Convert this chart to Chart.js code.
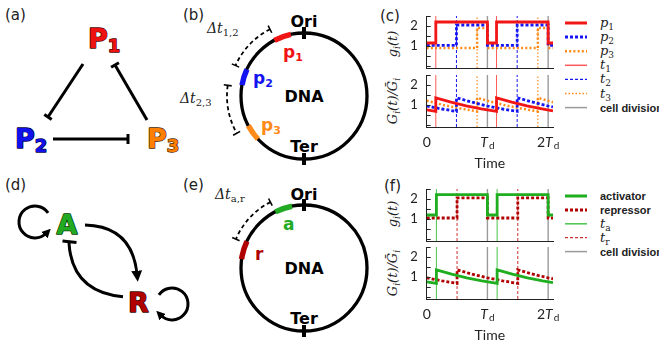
<!DOCTYPE html>
<html><head><meta charset="utf-8">
<script src="https://cdn.jsdelivr.net/npm/chart.js@4"></script>
<style>
body{margin:0;background:#fff;}
#wrap{position:relative;width:659px;height:343px;overflow:hidden;background:#fff;}
canvas{position:absolute;}
#fig{position:absolute;left:0;top:0;}
</style></head><body>
<div id="wrap">
<svg id="fig" width="659" height="343" font-family="DejaVu Sans"></svg>
<canvas id="cTop" width="156" height="60" style="left:400px;top:10px"></canvas>
<canvas id="cBot" width="175" height="100" style="left:400px;top:70px"></canvas>
<canvas id="fTop" width="156" height="60" style="left:400px;top:183px"></canvas>
<canvas id="fBot" width="175" height="101" style="left:400px;top:242px"></canvas>
</div>
<script>
// ---------- data (time in units of T_d) ----------
const timeTicks = [0, 1, 2];
const yMin = -0.1, yMax = 2.5, xMax = 2.08;
const yTickMarks = [0, 0.5, 1, 1.5, 2, 2.5];
const yTickLabels = [1, 2];
const divisionTimes = [1, 2];
const t1Times = [0.15, 1.15];
const t2Times = [0.49, 1.49];
const t3Times = [0.83, 1.83];
const taTimes = [0.16, 1.16];
const trTimes = [0.5, 1.5];
// gene copy number g_i(t): [time, value] at switching points
const p1Gene = [[0,1.15],[0.15,2.2],[1,1.15],[1.15,2.2],[2,1.15],[2.08,1.15]];
const p2Gene = [[0,1.03],[0.49,2.05],[1,1.03],[1.49,2.05],[2,1.03],[2.08,1.03]];
const p3Gene = [[0,0.9],[0.83,1.9],[1,0.9],[1.83,1.9],[2,0.9],[2.08,0.9]];
// gene concentration G_i(t)/mean
const p1Conc = [[0,0.76],[0.15,0.68],[0.15,1.36],[0.4,1.14],[0.65,0.96],[0.9,0.81],[1.15,0.68],[1.15,1.36],[1.4,1.14],[1.65,0.96],[1.9,0.81],[2.08,0.71]];
const p2Conc = [[0,0.95],[0.25,0.8],[0.49,0.68],[0.49,1.36],[0.75,1.14],[1,0.95],[1.25,0.8],[1.49,0.68],[1.49,1.36],[1.75,1.14],[2,0.95],[2.08,0.9]];
const p3Conc = [[0,1.21],[0.3,0.98],[0.55,0.83],[0.83,0.68],[0.83,1.36],[1.05,1.17],[1.3,0.98],[1.55,0.83],[1.83,0.68],[1.83,1.36],[2.08,1.14]];
const actGene = [[0,1.2],[0.16,2.22],[1,1.2],[1.16,2.22],[2,1.2],[2.08,1.2]];
const repGene = [[0,1.05],[0.5,2.06],[1,1.05],[1.5,2.06],[2,1.05],[2.08,1.05]];
const actConc = [[0,0.76],[0.16,0.68],[0.16,1.36],[0.41,1.14],[0.66,0.96],[0.91,0.81],[1.16,0.68],[1.16,1.36],[1.41,1.14],[1.66,0.96],[1.91,0.81],[2.08,0.72]];
const repConc = [[0,0.96],[0.25,0.81],[0.5,0.68],[0.5,1.36],[0.75,1.14],[1,0.96],[1.25,0.81],[1.5,0.68],[1.5,1.36],[1.75,1.14],[2,0.96],[2.08,0.91]];

// ---------- styles ----------
const RED='#f31616', LRED='#ff5a5a', BLUE='#1616f2', ORANGE='#ff8a18', GRAY='#9a9a9a', GREEN='#1fae1f', LGREEN='#4cc44c', DRED='#b00000', MRED='#cc3030';

const pts = a => a.map(([x,y]) => ({x, y}));
const vpts = ts => ts.flatMap(t => [{x:t,y:yMin},{x:t,y:yMax},{x:t,y:null}]);
function ds(data, color, width, dash, stepped){
  return {data, borderColor:color, borderWidth:width, borderDash:dash||[], stepped: stepped ? 'before' : false,
          pointRadius:0, fill:false, tension:0, spanGaps:false};
}
function drawTimeLabel(ctx, v, px, py){
  const parts = [];
  if (v === 0) parts.push(['0','14px Lato',0]);
  else { if (v !== 1) parts.push([String(v),'14px Lato',0]); parts.push(['T','italic 14px Lato',0]); parts.push(['d','10px Lato',4]); }
  let w = 0; parts.forEach(p => { ctx.font = p[1]; w += ctx.measureText(p[0]).width + (p[0]==='T'?1:0); });
  let x = px - w/2;
  ctx.textAlign = 'left';
  parts.forEach(p => { ctx.font = p[1]; ctx.fillText(p[0], x, py + p[2]); x += ctx.measureText(p[0]).width + (p[0]==='T'?1:0); });
}
const axisDecor = {
  id:'axisDecor',
  afterDraw(chart, args, opts){
    const {ctx, chartArea:a, scales:{x, y}} = chart;
    ctx.save();
    ctx.strokeStyle = '#222'; ctx.lineWidth = 1;
    yTickMarks.forEach(v => { const py = Math.round(y.getPixelForValue(v)) + 0.5;
      ctx.beginPath(); ctx.moveTo(a.left, py); ctx.lineTo(a.left + 4, py); ctx.stroke(); });
    if (opts.show){
      ctx.fillStyle = '#222'; ctx.textBaseline = 'middle';
      timeTicks.forEach(v => drawTimeLabel(ctx, v, x.getPixelForValue(v), a.bottom + 15));
      ctx.font = '14px Lato'; ctx.textAlign = 'center';
      ctx.fillText('Time', (a.left + a.right)/2, a.bottom + 36);
    }
    ctx.restore();
  }
};
function makeChart(id, datasets, padTop, padBottom, padRight, showTime){
  return new Chart(document.getElementById(id), {
    type:'line',
    data:{datasets},
    options:{
      responsive:false, animation:false, devicePixelRatio:1, events:[],
      layout:{padding:{left:0, right:padRight, top:padTop, bottom:padBottom}},
      plugins:{legend:{display:false}, tooltip:{enabled:false}, axisDecor:{show:showTime}},
      scales:{
        x:{type:'linear', min:0, max:xMax, grid:{display:false, drawTicks:false},
           border:{display:true, color:'#222', width:1}, ticks:{display:false},
           afterFit:s => { s.height = 0; s.paddingLeft = 0; s.paddingRight = 0; }},
        y:{type:'linear', min:yMin, max:yMax, grid:{display:false, drawTicks:false},
           border:{display:true, color:'#222', width:1},
           ticks:{padding:9, color:'#222', font:{family:'Lato', size:13}},
           afterBuildTicks:s => { s.ticks = yTickLabels.map(v => ({value:v})); },
           afterFit:s => { s.width = 26.7; s.paddingTop = 0; s.paddingBottom = 0; }}
      }
    },
    plugins:[axisDecor]
  });
}
function verticals(a, b, c){
  const out = [];
  if (a) out.push(ds(vpts(a[0]), a[1], 1, a[2]));
  if (b) out.push(ds(vpts(b[0]), b[1], 1, b[2]));
  if (c) out.push(ds(vpts(c[0]), c[1], 1.2, c[2]));
  out.push(ds(vpts(divisionTimes), GRAY, 1.4));
  return out;
}
const cVert = () => verticals([t1Times, LRED], [t2Times, BLUE, [3,2]], [t3Times, ORANGE, [1.5,2]]);
const fVert = () => verticals([taTimes, LGREEN], [trTimes, MRED, [3,2]]);

makeChart('cTop', [ds(pts(p1Gene), RED, 2.8, null, true), ds(pts(p2Gene), BLUE, 2.8, [3,2], true),
                   ds(pts(p3Gene), ORANGE, 2.5, [2,2.2], true), ...cVert()], 6, 2, 3, false);
makeChart('cBot', [ds(pts(p1Conc), RED, 2.8), ds(pts(p2Conc), BLUE, 2.8, [3,2]),
                   ds(pts(p3Conc), ORANGE, 2.5, [2,2.2]), ...cVert()], 5, 43, 22, true);
makeChart('fTop', [ds(pts(actGene), GREEN, 2.8, null, true), ds(pts(repGene), DRED, 2.8, [3,2], true), ...fVert()], 6, 2, 3, false);
makeChart('fBot', [ds(pts(actConc), GREEN, 2.8), ds(pts(repConc), DRED, 2.8, [3,2]), ...fVert()], 5, 44, 22, true);

// ---------- diagrams, legends, labels (SVG) ----------
function P(cx,cy,r,phi){ const a = phi*Math.PI/180; return [cx - r*Math.sin(a), cy - r*Math.cos(a)]; }
function arc(cx,cy,r,p1,p2){ const [x1,y1]=P(cx,cy,r,p1), [x2,y2]=P(cx,cy,r,p2);
  return `M${x1.toFixed(1)},${y1.toFixed(1)} A${r},${r} 0 ${(p2-p1)>180?1:0} 0 ${x2.toFixed(1)},${y2.toFixed(1)}`; }
function bracket(cx,cy,r,p1,p2){
  let s = `<path d="${arc(cx,cy,r,p1,p2)}" fill="none" stroke="#000" stroke-width="1.8" stroke-dasharray="4,3"/>`;
  [p1,p2].forEach(p => { const [a,b]=P(cx,cy,r-4,p), [c,d]=P(cx,cy,r+4,p);
    s += `<line x1="${a}" y1="${b}" x2="${c}" y2="${d}" stroke="#000" stroke-width="1.6"/>`; });
  return s;
}
function dna(cx,cy,r,segs,oriY,terY,dnaY){
  let s = `<circle cx="${cx}" cy="${cy}" r="${r}" fill="none" stroke="#000" stroke-width="3.3"/>`;
  segs.forEach(g => s += `<path d="${arc(cx,cy,r,g[0],g[1])}" fill="none" stroke="${g[2]}" stroke-width="5.5"/>`);
  s += `<rect x="${cx-2}" y="${cy-r-6}" width="4" height="12" fill="#000"/><rect x="${cx-2}" y="${cy+r-6}" width="4" height="12" fill="#000"/>`;
  s += `<text x="${cx}" y="${oriY}" text-anchor="middle" font-weight="bold" font-size="16">Ori</text>`;
  s += `<text x="${cx}" y="${terY}" text-anchor="middle" font-weight="bold" font-size="16">Ter</text>`;
  s += `<text x="${cx}" y="${dnaY}" text-anchor="middle" font-weight="bold" font-size="16">DNA</text>`;
  return s;
}
function big(x,y,main,sub,fill,stroke){
  return `<text x="${x}" y="${y}" font-weight="bold" font-size="27" fill="${fill}" stroke="${stroke}" stroke-width="1.4" paint-order="stroke" stroke-linejoin="round">${main}${sub?`<tspan font-size="18" dy="4">${sub}</tspan>`:''}</text>`;
}
function mathLbl(x,y,main,sub){
  return `<text x="${x}" y="${y}" font-family="DejaVu Serif" font-style="italic" font-size="14" fill="#222">${main}<tspan font-size="10" dy="3" font-style="normal">${sub}</tspan></text>`;
}
function legend(y0, dy, items){
  let s = '';
  items.forEach((it,i) => {
    const y = y0 + i*dy;
    s += `<line x1="565" y1="${y}" x2="587" y2="${y}" stroke="${it.c}" stroke-width="${it.w}" ${it.d?`stroke-dasharray="${it.d}"`:''}/>`;
    if (it.sub) s += `<text x="600" y="${y+4}" font-family="DejaVu Serif" font-style="italic" font-size="13" fill="#222">${it.t}<tspan font-size="9" dy="3" font-style="normal">${it.sub}</tspan></text>`;
    else s += `<text x="600" y="${y+4}" font-family="Liberation Sans" font-weight="bold" font-size="11" fill="#222">${it.t}</text>`;
  });
  return s;
}
function ylab(x,y,html){ return `<text transform="translate(${x},${y}) rotate(-90)" text-anchor="middle" font-family="DejaVu Serif" font-style="italic" font-size="13" fill="#222">${html}</text>`; }
const gLab = 'g<tspan font-size="9" dy="3">i</tspan><tspan dy="-3">(t)</tspan>';
const GLab = 'G<tspan font-size="9" dy="3">i</tspan><tspan dy="-3">(t)/Ḡ</tspan><tspan font-size="9" dy="3">i</tspan>';

let svg = '';
svg += `<defs>
<marker id="ah" viewBox="0 0 10 10" refX="3" refY="5" markerUnits="userSpaceOnUse" markerWidth="11" markerHeight="11" orient="auto"><path d="M0,0 L10,5 L0,10 z" fill="#000"/></marker>
<marker id="ahs" viewBox="0 0 10 10" refX="3" refY="5" markerUnits="userSpaceOnUse" markerWidth="9" markerHeight="9" orient="auto"><path d="M0,0 L10,5 L0,10 z" fill="#000"/></marker>
</defs>`;
// panel labels
[['(a)',5,20],['(b)',183,20],['(c)',380,21],['(d)',5,190],['(e)',183,190],['(f)',384,191]].forEach(p =>
  svg += `<text x="${p[1]}" y="${p[2]}" font-size="15" fill="#222">${p[0]}</text>`);
// (a)
svg += `<g stroke="#000" stroke-width="3" fill="none">
<line x1="83" y1="64" x2="48" y2="117"/><line x1="44.3" y1="114.5" x2="51.7" y2="119.5"/>
<line x1="53" y1="139" x2="128" y2="139"/><line x1="128" y1="134" x2="128" y2="144"/>
<line x1="147" y1="120" x2="115" y2="65"/><line x1="111.1" y1="67.3" x2="118.9" y2="62.7"/></g>`;
svg += big(88,48,'P','1','#ee1111','#4a0000') + big(15,148,'P','2','#1111ee','#00004a') + big(147,148,'P','3','#ff8000','#4a2000');
// (b)
svg += dna(304,96,63,[[12,28,'#f01414'],[65,80,'#1414f0'],[118,133,'#ff8a18']],26.5,152,102);
svg += bracket(304,96,75,27,66) + bracket(304,96,77,82,119);
svg += mathLbl(207,33,'Δt','1,2') + mathLbl(180,103,'Δt','2,3');
svg += `<text x="283" y="58" font-weight="bold" font-size="17" fill="#f01414">p<tspan font-size="11" dy="3">1</tspan></text>`;
svg += `<text x="253" y="84" font-weight="bold" font-size="17" fill="#1414f0">p<tspan font-size="11" dy="3">2</tspan></text>`;
svg += `<text x="261" y="131" font-weight="bold" font-size="17" fill="#ff8a18">p<tspan font-size="11" dy="3">3</tspan></text>`;
// (d)
svg += `<g stroke="#000" stroke-width="3" fill="none">
<path d="M48.1,212.8 A16,16 0 1 0 46.3,233.3" marker-end="url(#ahs)"/>
<path d="M158.9,294.8 A16,16 0 1 1 160.7,315.3" marker-end="url(#ahs)"/>
<path d="M85,225 Q132,226 137,274" marker-end="url(#ah)"/>
<path d="M123,296.7 Q72,292 69,243"/>
<line x1="62.5" y1="241" x2="76.5" y2="242.5"/></g>`;
svg += big(56.5,233.5,'A','','#22aa22','#003a00') + big(128,311.5,'R','','#b00000','#3a0000');
// (e)
svg += dna(304,268,63,[[11,27,'#22aa22'],[65,82,'#b00000']],200,324,274);
svg += bracket(304,268,74,27,67);
svg += mathLbl(215,199,'Δt','a,r');
svg += `<text x="283" y="230" font-weight="bold" font-size="17" fill="#22aa22">a</text>`;
svg += `<text x="255" y="260" font-weight="bold" font-size="17" fill="#b00000">r</text>`;
// axis titles
svg += ylab(397,44,gLab) + ylab(397,101,GLab) + ylab(397,214,gLab) + ylab(397,273,GLab);
// legends
svg += legend(23, 14.1, [
  {t:'p',sub:'1',c:RED,w:3},{t:'p',sub:'2',c:BLUE,w:3,d:'3,2'},{t:'p',sub:'3',c:ORANGE,w:2.6,d:'2,2.2'},
  {t:'t',sub:'1',c:LRED,w:1.5},{t:'t',sub:'2',c:BLUE,w:1.2,d:'3,2'},{t:'t',sub:'3',c:ORANGE,w:1.3,d:'1.5,2'},
  {t:'cell division',c:GRAY,w:1.5}]);
svg += legend(196, 13.9, [
  {t:'activator',c:GREEN,w:3},{t:'repressor',c:DRED,w:3,d:'3,2'},
  {t:'t',sub:'a',c:LGREEN,w:1.5},{t:'t',sub:'r',c:MRED,w:1.2,d:'3,2'},{t:'cell division',c:GRAY,w:1.5}]);
document.getElementById('fig').innerHTML = svg;
</script>
</body></html>
